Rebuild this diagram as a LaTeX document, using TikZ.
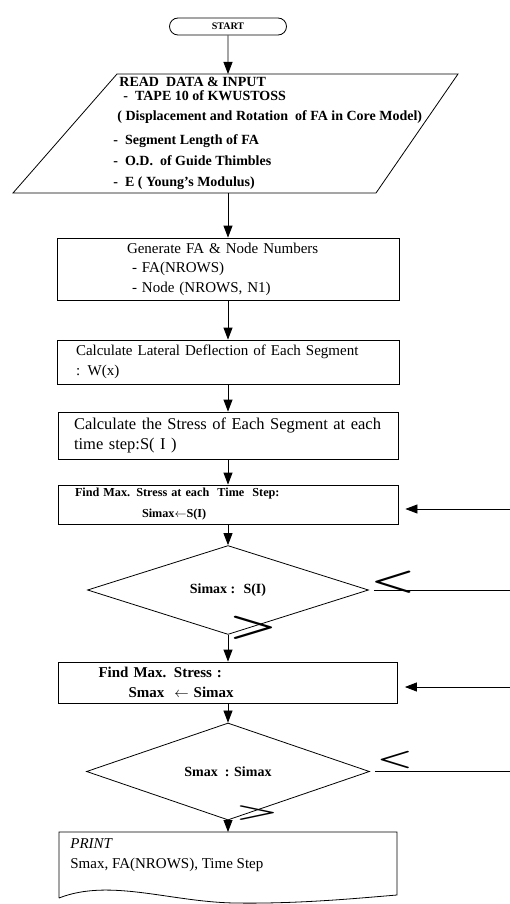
\documentclass[tikz,border=0pt]{standalone}
\usepackage{fontspec}
\setmainfont{Liberation Serif}
\usetikzlibrary{arrows.meta,shapes.geometric,shapes.misc}

\begin{document}
\begin{tikzpicture}[x=1pt,y=-1pt,line width=0.8pt,
    flow/.style={-{Triangle[width=9pt,length=12pt]}},
    procbox/.style={draw,rectangle,align=left,inner ysep=0pt},
    decide/.style={draw,diamond,inner sep=0pt,font=\bfseries\fontsize{14}{16}\selectfont},
    cmpsign/.style={inner sep=0pt,font=\boldmath\fontsize{14}{14}\selectfont}]

       \useasboundingbox (0,0) rectangle (510,904);

       \node[draw,rounded rectangle,minimum width=117pt,minimum height=17pt,inner sep=0pt,
             font=\bfseries\fontsize{10}{12}\selectfont] (start) at (228,26.5) {START};

       % input data
       \draw (117,74) -- (458,74) -- (376,193) -- (13,193) -- cycle;
       \coordinate (readtop) at (228,74);
       \coordinate (readbot) at (228,193);
       \node[anchor=north west,align=left,inner sep=0pt,font=\bfseries\fontsize{14}{21}\selectfont] (read) at (113,77)
            {\hspace*{6pt}READ~ DATA \& INPUT\\[-7pt]
             \hspace*{10pt}-~ TAPE 10 of KWUSTOSS\\[-1pt]
             \hspace*{4pt}( Displacement and Rotation~ of FA in Core Model)\\[3pt]
             -~ Segment Length of FA\\
             -~ O.D.~ of Guide Thimbles\\
             -~ E ( Young's Modulus)};

       \node[procbox,minimum width=342pt,minimum height=62pt,inner xsep=70pt,text width=202pt,
             font=\fontsize{15}{19.5}\selectfont] (gen) at (228,269)
            {Generate FA \& Node Numbers\\\hspace*{5pt}- FA(NROWS)\\\hspace*{5pt}- Node (NROWS, N1)};
       \node[procbox,minimum width=342pt,minimum height=44pt,inner xsep=19pt,text width=304pt,
             font=\fontsize{15}{20}\selectfont] (calc) at (228,362)
            {Calculate Lateral Deflection of Each Segment\\: W(x)};
       \node[procbox,minimum width=340pt,minimum height=47pt,inner xsep=16pt,text width=308pt,
             font=\fontsize{16.5}{20}\selectfont] (stress) at (228,435.5)
            {Calculate the Stress of Each Segment at each\\time step:S( I )};
       \node[procbox,minimum width=340pt,minimum height=39pt,inner xsep=17pt,text width=306pt,
             font=\bfseries\fontsize{12.2}{21}\selectfont] (findi) at (228,504.5)
            {Find Max. Stress at each~ Time~ Step:\\\hspace*{67pt}Simax$\leftarrow$S(I)};
       \node[decide,minimum width=281pt,minimum height=64pt] (cmpi) at (228,590) {Simax~:~ S(I)};
       \node[procbox,minimum width=339pt,minimum height=41pt,inner xsep=40pt,text width=259pt,
             font=\bfseries\fontsize{15}{20}\selectfont] (findmax) at (228,682.5)
            {Find Max. Stress :\\\hspace*{30pt}Smax~ $\leftarrow$ Simax};
       \node[decide,minimum width=283pt,minimum height=63pt] (cmpmax) at (228,771.5) {Smax~ : Simax};

       % print
       \draw (59,898) -- (59,832) -- (397,832) -- (397,895)
             .. controls (360,898) and (300,904) .. (235,903)
             .. controls (170,902) and (110,878) .. (59,898);
       \coordinate (printtop) at (228,832);
       \node[anchor=north west,align=left,inner sep=0pt,font=\fontsize{15}{20}\selectfont] (print) at (70,838)
            {\textit{PRINT}\\Smax, FA(NROWS), Time Step};

       \draw[flow] (start) -- (readtop);
       \draw[flow] (readbot) -- (gen);
       \draw[flow] (gen) -- (calc);
       \draw[flow] (calc) -- (stress);
       \draw[flow] (stress) -- (findi);
       \draw[flow] (findi) -- (cmpi);
       \draw[flow] (cmpi) -- (findmax);
       \draw[flow] (findmax) -- (cmpmax);
       \draw[flow] (cmpmax) -- (printtop);

       % loops coming back from the right
       \coordinate (backi) at (510,509);
       \coordinate (backmax) at (510,687);
       \coordinate (outi) at (510,590);
       \coordinate (outmax) at (510,771.5);
       \draw[flow,shorten >=7pt] (backi) -- (findi.east |- backi);
       \draw[flow,shorten >=7pt] (backmax) -- (findmax.east |- backmax);
       \draw[shorten <=5pt] (cmpi.east) -- (outi);
       \draw[shorten <=5pt] (cmpmax.east) -- (outmax);

       \node[cmpsign] (lti) at (393,582) {\scalebox{3.5}[2.3]{$<$}};
       \node[cmpsign] (gti) at (253,628) {\scalebox{3.8}[2.4]{$>$}};
       \node[cmpsign] (ltmax) at (395,760) {\scalebox{2.8}[1.8]{$<$}};
       \node[cmpsign] (gtmax) at (257,813) {\scalebox{3.4}[1.5]{$>$}};
     \end{tikzpicture}
\end{document}
